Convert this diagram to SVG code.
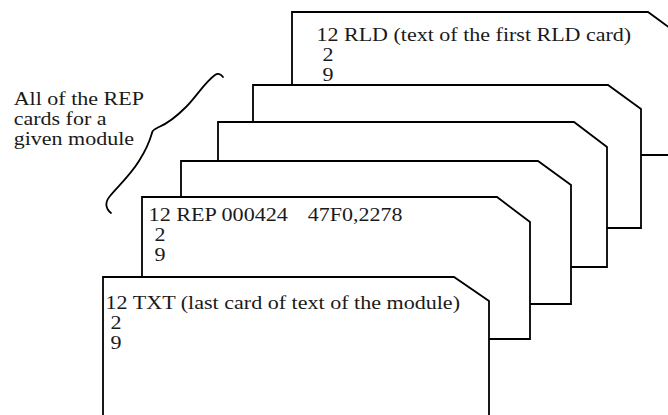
<svg xmlns="http://www.w3.org/2000/svg" width="668" height="415" viewBox="0 0 668 415">
  <style>
    .card { fill: #ffffff; stroke: #000000; stroke-width: 1.8; stroke-linejoin: miter; }
    .txt { font-family: "Liberation Serif", "Times New Roman", serif; font-size: 18px; fill: #1a1a1a; }
    .brace { fill: none; stroke: #000000; stroke-width: 1.8; stroke-linecap: round; stroke-linejoin: round; }
  </style>
  <rect x="0" y="0" width="668" height="415" fill="#ffffff"/>

  <!-- deck of punched cards, drawn back to front; lettering is set slightly wide -->
  <g id="card-rld">
    <polygon class="card" points="292,12 648,12 681,36 681,155 292,155"/>
    <text class="txt" x="316.5" y="41" textLength="314.7" lengthAdjust="spacingAndGlyphs">12 RLD (text of the first RLD card)</text>
    <text class="txt" x="322.5" y="61" textLength="11" lengthAdjust="spacingAndGlyphs">2</text>
    <text class="txt" x="322.5" y="81" textLength="11" lengthAdjust="spacingAndGlyphs">9</text>
  </g>
  <g id="card-rep-4">
    <polygon class="card" points="253,85 608,85 641,109 641,228 253,228"/>
  </g>
  <g id="card-rep-3">
    <polygon class="card" points="218,122 574,122 607,147 607,267 218,267"/>
  </g>
  <g id="card-rep-2">
    <polygon class="card" points="181,161 538,161 571,185 571,304 181,304"/>
  </g>
  <g id="card-rep-1">
    <polygon class="card" points="142,197 497,197 530,222 530,339 142,339"/>
    <text class="txt" x="148.6" y="221" textLength="139.3" lengthAdjust="spacingAndGlyphs">12 REP 000424</text>
    <text class="txt" x="307.7" y="221" textLength="94.7" lengthAdjust="spacingAndGlyphs">47F0,2278</text>
    <text class="txt" x="154.5" y="241" textLength="11" lengthAdjust="spacingAndGlyphs">2</text>
    <text class="txt" x="154.5" y="261" textLength="11" lengthAdjust="spacingAndGlyphs">9</text>
  </g>
  <g id="card-txt">
    <polygon class="card" points="103,277 454,277 489,301 489,425 103,425"/>
    <text class="txt" x="105.6" y="308.5" textLength="354.4" lengthAdjust="spacingAndGlyphs">12 TXT (last card of text of the module)</text>
    <text class="txt" x="110.6" y="328.5" textLength="11" lengthAdjust="spacingAndGlyphs">2</text>
    <text class="txt" x="110.6" y="348.5" textLength="11" lengthAdjust="spacingAndGlyphs">9</text>
  </g>

  <!-- brace grouping the REP cards, with its note -->
  <g id="rep-note">
    <path class="brace" d="M223,77 C221,74 218,73 215,75 C205,82 196,97 186,107 C176,117 166,124 159,127 C155,129 152,130 152,133 C150,140 146,150 139,161 C129,177 117,187 110,196 C105,202 105,208 111,213"/>
    <text class="txt" x="13.7" y="105" textLength="130.2" lengthAdjust="spacingAndGlyphs">All of the REP</text>
    <text class="txt" x="13.7" y="125" textLength="92.8" lengthAdjust="spacingAndGlyphs">cards for a</text>
    <text class="txt" x="13.7" y="145" textLength="120.4" lengthAdjust="spacingAndGlyphs">given module</text>
  </g>
</svg>
